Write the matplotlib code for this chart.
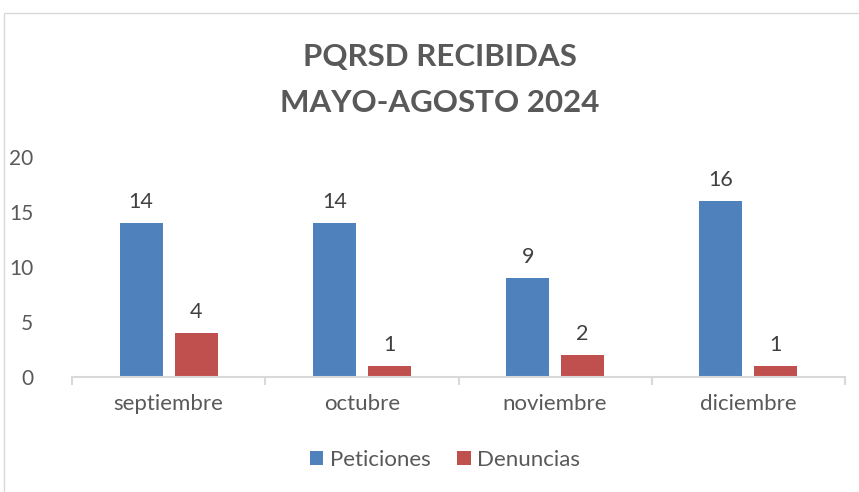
import matplotlib
matplotlib.use('Agg')
import matplotlib.pyplot as plt
from matplotlib.patches import Rectangle
import numpy as np

plt.rcParams['font.family'] = ['Lato', 'DejaVu Sans']

meses = ['septiembre', 'octubre', 'noviembre', 'diciembre']
peticiones = [14, 14, 9, 16]
denuncias = [4, 1, 2, 1]

azul = '#4F81BD'
rojo = '#C0504D'
gris = '#595959'

fig = plt.figure(figsize=(8.59, 4.92), dpi=100)
ax = fig.add_axes([72 / 859, 1 - 377 / 492, 773 / 859, 220 / 492])

# marco del área del gráfico
fig.patches.append(Rectangle((4 / 859, -0.1), 1.2, 1.1 - 13 / 492, transform=fig.transFigure,
                             fill=False, edgecolor='#d9d9d9', linewidth=1))

x = np.arange(len(meses))
ancho = 0.222
desp = 0.142
b1 = ax.bar(x - desp, peticiones, ancho, color=azul, label='Peticiones')
b2 = ax.bar(x + desp, denuncias, ancho, color=rojo, label='Denuncias')

for barras in (b1, b2):
    for b in barras:
        ax.annotate(f'{int(b.get_height())}', (b.get_x() + b.get_width() / 2, b.get_height()),
                    xytext=(0, 8), textcoords='offset points', ha='center', va='bottom',
                    fontsize=15.5, color='#404040')

ax.set_xlim(-0.5, len(meses) - 0.5)
ax.set_ylim(0, 20)
ax.set_yticks([0, 5, 10, 15, 20])
ax.set_xticks(x)
ax.set_xticklabels(meses)
ax.set_xticks(np.arange(-0.5, len(meses)), minor=True)
ax.tick_params(axis='x', which='major', length=0, pad=12, labelsize=16, labelcolor=gris)
ax.tick_params(axis='x', which='minor', length=6, color='#d9d9d9', width=1.5)
ax.tick_params(axis='y', length=0, pad=28, labelsize=15, labelcolor=gris)

for s in ['top', 'right', 'left']:
    ax.spines[s].set_visible(False)
ax.spines['bottom'].set_color('#d9d9d9')
ax.spines['bottom'].set_linewidth(1.5)

fig.text(0.512, 1 - 57 / 492, 'PQRSD RECIBIDAS', ha='center', va='center',
         fontsize=22.5, fontweight='bold', color=gris)
fig.text(0.512, 1 - 103 / 492, 'MAYO-AGOSTO 2024', ha='center', va='center',
         fontsize=22.5, fontweight='bold', color=gris)

fig.legend(handles=[b1, b2], loc='center', bbox_to_anchor=(0.518, 1 - 460 / 492),
           ncol=2, frameon=False, fontsize=16, labelcolor=gris,
           handlelength=0.6, handleheight=0.6, handletextpad=0.3, columnspacing=1.2)

fig.savefig('out.png', dpi=100)
